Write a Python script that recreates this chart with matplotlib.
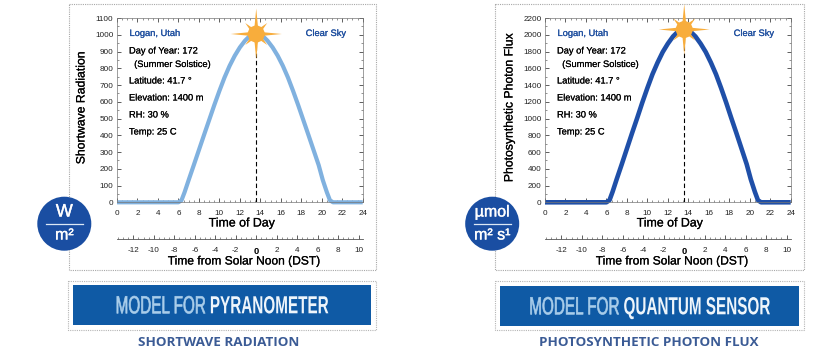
# coding: utf-8
"""
Clear sky model panels for a pyranometer and a quantum sensor.
"""

import matplotlib
matplotlib.use("Agg")
import matplotlib.pyplot as plt
import matplotlib.patheffects as pe
import numpy as np
from matplotlib.patches import Circle, Polygon, Rectangle
from matplotlib.ticker import MultipleLocator
from matplotlib.transforms import Affine2D

plt.rcParams["font.family"] = ["Liberation Sans", "DejaVu Sans"]
plt.rcParams["axes.unicode_minus"] = False

WIDTH, HEIGHT = 828, 364
SOLAR_NOON = 13.6

hours = [0, 6.0, 6.3, 6.6, 7.0, 7.5, 8.0, 8.5, 9.0, 9.5, 10.0, 10.5, 11.0, 11.5, 12.0, 12.5, 13.0, 13.6,
         14.2, 14.7, 15.2, 15.7, 16.2, 16.7, 17.2, 17.7, 18.2, 18.7, 19.2, 19.7, 20.1, 20.5, 20.8, 21.1, 24]
shortwave = [0, 0, 12, 60, 133, 222, 312, 402, 491, 580, 665, 745, 815, 875, 925, 965, 995, 1010,
             995, 965, 925, 875, 815, 745, 665, 580, 491, 402, 312, 222, 133, 60, 12, 0, 0]
photon_flux = [0, 0, 25, 125, 275, 455, 640, 825, 1005, 1190, 1365, 1530, 1670, 1795, 1895, 1980, 2040, 2060,
               2040, 1980, 1895, 1795, 1670, 1530, 1365, 1190, 1005, 825, 640, 455, 275, 125, 25, 0, 0]

hour_ticks = list(range(0, 25, 2))
noon_ticks = [-12, -10, -8, -6, -4, -2, 0, 2, 4, 6, 8, 10]
site_notes = ["Day of Year: 172", "  (Summer Solstice)", "Latitude: 41.7 \u00b0", "Elevation: 1400 m",
              "RH: 30 %", "Temp: 25 C"]
note_rows = [51, 64.5, 81, 98, 115, 132]

BLUE_TEXT = "#1f4f9f"
BADGE = "#1a4ea2"
BANNER = "#0f5aa5"
SUN = "#f8ad3c"
TICK_TEXT = "#222222"


class TallText(pe.AbstractPathEffect):
    """Stretch glyphs upward from the baseline, the banner lettering is very condensed."""

    def __init__(self, pivot, factor, stroke=0.0):
        super().__init__()
        self.pivot = pivot
        self.factor = factor
        self.stroke = stroke

    def draw_path(self, renderer, gc, tpath, affine, rgbFace=None):
        stretch = Affine2D().translate(0, -self.pivot).scale(1, self.factor).translate(0, self.pivot)
        gc0 = renderer.new_gc()
        gc0.copy_properties(gc)
        gc0.set_linewidth(self.stroke)
        if rgbFace is not None:
            gc0.set_foreground(rgbFace)
        renderer.draw_path(gc0, tpath, affine + stretch, rgbFace)
        gc0.restore()


def heavy(colour, width=0.15):
    return [pe.withStroke(linewidth=width, foreground=colour)]


def draw_sun(ax, x, y, long_arm=25.5, short_arm=15.5):
    """Eight pointed star with a round centre, in pixel coordinates."""
    points = []
    for i in range(8):
        angle = i * np.pi / 4
        arm = long_arm if i % 2 == 0 else short_arm
        points.append((x + arm * np.cos(angle), y + arm * np.sin(angle)))
        points.append((x + 5.2 * np.cos(angle + np.pi / 8), y + 5.2 * np.sin(angle + np.pi / 8)))
    ax.add_patch(Polygon(points, closed=True, color=SUN, lw=0))
    ax.add_patch(Circle((x, y), 8.5, color=SUN, lw=0))


def draw_banner(fig, ax, box, fill, words, caption, caption_x, caption_size, size):
    ax.add_patch(Rectangle((box[0], 281), box[1] - box[0], 48.7, fill=False, ec="#b5b5b5", lw=0.8, ls=(0, (1, 1))))
    ax.add_patch(Rectangle((fill[0], fill[2]), fill[1] - fill[0], 40, color=BANNER, lw=0))
    renderer = fig.canvas.get_renderer()
    baseline = fill[2] + 28.3
    pivot = HEIGHT - baseline
    first = ax.text(0, baseline, "MODEL FOR ", color="#a9cdea", fontsize=size, va="baseline",
                    path_effects=[TallText(pivot, 1.62, 0.45)])
    second = ax.text(0, baseline, words, color="#eef5fb", fontsize=size, fontweight="bold", va="baseline",
                     path_effects=[TallText(pivot, 1.62)])
    first_w = first.get_window_extent(renderer).width
    second_w = second.get_window_extent(renderer).width
    start = (fill[0] + fill[1]) / 2 - (first_w + second_w) / 2
    first.set_x(start)
    second.set_x(start + first_w)
    ax.text(caption_x, 343, caption, color="#3b5b95", fontsize=caption_size, fontweight="bold", ha="center",
            va="center", family=["Open Sans", "Liberation Sans"])


def draw_panel(fig, back, front, left, right, values, y_top, y_step, y_label, curve_color, curve_width,
               box, sun_y, badge_x, badge_top, badge_bottom, badge_size):
    bottom_y, top_y = 202.3, 18.1
    ax = fig.add_axes([left / WIDTH, 1 - bottom_y / HEIGHT, (right - left) / WIDTH, (bottom_y - top_y) / HEIGHT])
    ax.patch.set_alpha(0)
    ax.set_xlim(0, 24)
    ax.set_ylim(0, y_top)
    noon_x = left + SOLAR_NOON * (right - left) / 24

    ax.plot([SOLAR_NOON, SOLAR_NOON], [0, max(values)], color="black", lw=0.8, ls=(0, (4, 2.5)), zorder=1)
    ax.plot(hours, values, color=curve_color, lw=curve_width, solid_capstyle="butt", zorder=2, clip_on=False)

    ax.set_xticks(hour_ticks)
    ax.set_yticks(np.arange(0, y_top + 1, y_step))
    ax.xaxis.set_minor_locator(MultipleLocator(0.5))
    ax.yaxis.set_minor_locator(MultipleLocator(y_step / 2))
    ax.tick_params(which="major", direction="in", length=3.2, width=0.6, top=True, right=True,
                   labelsize=5.9, labelcolor=TICK_TEXT, color="#444444")
    ax.tick_params(axis="x", which="major", pad=5.5)
    ax.tick_params(axis="y", which="major", pad=2.5)
    ax.tick_params(which="minor", direction="in", length=1.6, width=0.5, top=True, right=True, color="#666666")
    for spine in ax.spines.values():
        spine.set_linewidth(0.5)
        spine.set_color("#777777")

    # second time axis
    noon_ax = fig.add_axes([left / WIDTH, 1 - 239 / HEIGHT, (right - left) / WIDTH, 8 / HEIGHT])
    noon_ax.patch.set_alpha(0)
    noon_ax.set_xlim(-SOLAR_NOON, 24 - SOLAR_NOON)
    noon_ax.set_yticks([])
    noon_ax.set_xticks(noon_ticks)
    noon_ax.xaxis.set_minor_locator(MultipleLocator(0.5))
    noon_ax.tick_params(which="major", direction="in", length=3.2, width=0.6, labelsize=5.9,
                        labelcolor=TICK_TEXT, pad=5.5, color="#444444")
    noon_ax.tick_params(which="minor", direction="in", length=1.5, width=0.5, color="#666666")
    for name in ["top", "left", "right"]:
        noon_ax.spines[name].set_visible(False)
    noon_ax.spines["bottom"].set_linewidth(0.6)
    noon_ax.spines["bottom"].set_color("#555555")
    for label in noon_ax.get_xticklabels():
        if label.get_text().strip() == "0":
            label.set_fontweight("bold")
            label.set_fontsize(6.8)
            label.set_color("black")

    back.add_patch(Rectangle((box[0], 3.5), box[1] - box[0], 266.5, fc="white", ec="#a8a8a8", lw=0.8, ls=(0, (1, 1))))

    front.text(left + 12.5, 33.5, "Logan, Utah", color=BLUE_TEXT, fontsize=6.7, va="center",
               path_effects=heavy(BLUE_TEXT))
    front.text(right - 57, 33.5, "Clear Sky", color=BLUE_TEXT, fontsize=6.7, va="center",
               path_effects=heavy(BLUE_TEXT))
    for note, row in zip(site_notes, note_rows):
        front.text(left + 12, row, note, color="black", fontsize=6.7, va="center", path_effects=heavy("black", 0.1))

    front.text(left - 35.5, 107.5, y_label, rotation=90, fontsize=8.8, ha="center", va="center",
               path_effects=heavy("black"))
    front.text(left + 125, 223.5, "Time of Day", fontsize=8.9, ha="center", va="center", path_effects=heavy("black"))
    front.text(left + 127, 261.5, "Time from Solar Noon (DST)", fontsize=8.65, ha="center", va="center",
               path_effects=heavy("black"))

    draw_sun(front, noon_x, sun_y)

    front.add_patch(Circle((badge_x, 223.7), 27, color=BADGE, lw=0))
    front.plot([badge_x - 18.5, badge_x + 18.5], [223.5, 223.5], color="#dce8f5", lw=0.9)
    front.text(badge_x, 212, badge_top, color="white", fontsize=badge_size, ha="center", va="center",
               path_effects=heavy("white", 0.25))
    front.text(badge_x, 235, badge_bottom, color="white", fontsize=11.5, ha="center", va="center",
               path_effects=heavy("white", 0.25))


def main():
    fig = plt.figure(figsize=(WIDTH / 100, HEIGHT / 100), dpi=100, facecolor="white")

    back = fig.add_axes([0, 0, 1, 1], zorder=-1)
    front = fig.add_axes([0, 0, 1, 1], zorder=5)
    for layer in (back, front):
        layer.set_xlim(0, WIDTH)
        layer.set_ylim(HEIGHT, 0)
        layer.axis("off")

    draw_panel(fig, back, front, 117, 362.7, shortwave, 1100, 100, "Shortwave Radiation", "#80b1df", 3.0,
               (68.7, 375.7), 34, 64.3, "W", "m\u00b2", 13)
    draw_panel(fig, back, front, 545, 790.7, photon_flux, 2200, 200, "Photosynthetic Photon Flux", "#1f4fa8", 3.3,
               (495.3, 803.7), 29.5, 492.2, "\u00b5mol", "m\u00b2 s\u00b9", 11.5)

    draw_banner(fig, front, (68.3, 375.7), (72.7, 371, 285), "PYRANOMETER", "SHORTWAVE RADIATION", 218.3, 9.7, 11)
    draw_banner(fig, front, (495.3, 803.7), (500, 799, 286), "QUANTUM SENSOR", "PHOTOSYNTHETIC PHOTON FLUX", 648.5, 9.6, 11)

    fig.savefig("out.png", dpi=100)


if __name__ == "__main__":
    main()
